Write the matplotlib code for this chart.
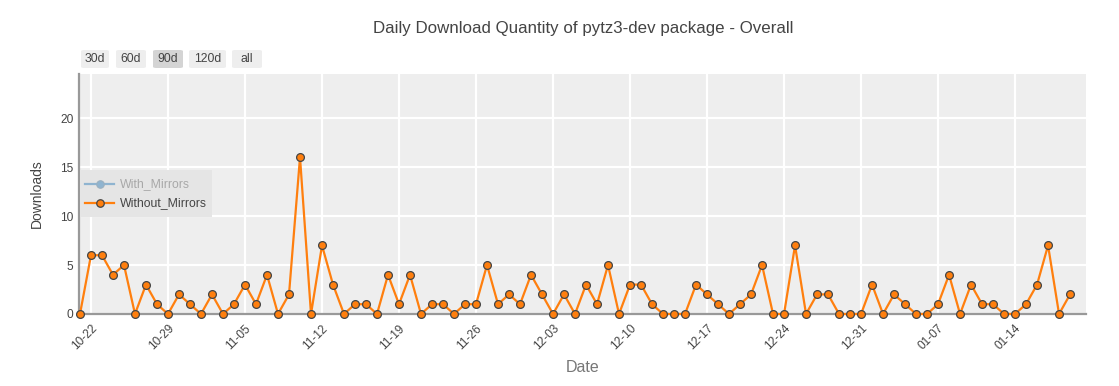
import matplotlib
matplotlib.use("Agg")
import matplotlib.pyplot as plt
import matplotlib.dates as mdates
from matplotlib.patches import FancyBboxPatch
from matplotlib.lines import Line2D
import pandas as pd
import numpy as np

start_date = "2023-10-21"
without_mirrors = [0, 6, 6, 4, 5, 0, 3, 1, 0, 2, 1, 0, 2, 0, 1, 3, 1, 4, 0, 2,
                   16, 0, 7, 3, 0, 1, 1, 0, 4, 1, 4, 0, 1, 1, 0, 1, 1, 5, 1, 2,
                   1, 4, 2, 0, 2, 0, 3, 1, 5, 0, 3, 3, 1, 0, 0, 0, 3, 2, 1, 0,
                   1, 2, 5, 0, 0, 7, 0, 2, 2, 0, 0, 0, 3, 0, 2, 1, 0, 0, 1, 4,
                   0, 3, 1, 1, 0, 0, 1, 3, 7, 0, 2]
tick_labels = ["10-22", "10-29", "11-05", "11-12", "11-19", "11-26", "12-03",
               "12-10", "12-17", "12-24", "12-31", "01-07", "01-14"]
buttons = ["30d", "60d", "90d", "120d", "all"]
selected_button = "90d"
title = "Daily Download Quantity of pytz3-dev package - Overall"

dates = pd.date_range(start_date, periods=len(without_mirrors), freq="D")
tick_dates = pd.date_range("2023-10-22", periods=len(tick_labels), freq="7D")

FONT = "Liberation Sans"
plt.rcParams["font.family"] = [FONT, "DejaVu Sans"]

W, H = 1119, 386
fig = plt.figure(figsize=(W / 100, H / 100), dpi=100)
L, R, T, B = 79, 1086, 74, 314
ax = fig.add_axes([L / W, 1 - B / H, (R - L) / W, (B - T) / H])
ax.set_facecolor("#eeeeee")

ax.plot(dates, without_mirrors, color="#ff7f0e", lw=1.6, marker="o", ms=5.6,
        mfc="#ff7f0e", mec="#444444", mew=0.9, zorder=3, clip_on=False)

x0 = mdates.date2num(dates[0]) - 0.09
x1 = mdates.date2num(dates[-1]) + 1.45
ax.set_xlim(x0, x1)
ax.set_ylim(0, 24.5)
ax.set_yticks([0, 5, 10, 15, 20])
ax.set_xticks(tick_dates)
ax.set_xticklabels(tick_labels, rotation=45, ha="right", rotation_mode="anchor")
ax.grid(True, color="white", lw=1.6)
ax.set_axisbelow(True)
for s in ["top", "right"]:
    ax.spines[s].set_visible(False)
for s in ["left", "bottom"]:
    ax.spines[s].set_color("#999999")
    ax.spines[s].set_linewidth(1.6)
ax.tick_params(axis="both", length=0, labelsize=8.6, colors="#444444")
ax.tick_params(axis="x", pad=6)
ax.tick_params(axis="y", pad=4)

ax.set_ylabel("Downloads", fontsize=10, color="#444444", labelpad=12)
fig.text(583 / W, 1 - 368 / H, "Date", fontsize=11.5, color="#777777",
         ha="center", va="center")
fig.text(583 / W, 1 - 28 / H, title, fontsize=12.2, color="#444444",
         ha="center", va="center")

# range selector buttons
bx = [(81, 109), (116, 146), (153, 183), (189, 226), (232, 262)]
for (a, b), lab in zip(bx, buttons):
    fc = "#d4d4d4" if lab == selected_button else "#eeeeee"
    p = FancyBboxPatch((a / W, 1 - 68 / H), (b - a) / W, 18 / H,
                       boxstyle="round,pad=0,rounding_size=0.003",
                       transform=fig.transFigure, fc=fc, ec="none")
    fig.patches.append(p)
    fig.text((a + b) / 2 / W, 1 - 59 / H, lab, fontsize=8.8, color="#444444",
             ha="center", va="center")

# legend
lg = FancyBboxPatch((80 / W, 1 - 217 / H), 132 / W, 47 / H,
                    boxstyle="square,pad=0", transform=fig.transFigure,
                    fc="#e5e5e5", ec="none", zorder=5)
fig.patches.append(lg)
fig.add_artist(Line2D([85 / W, 114 / W], [1 - 184 / H, 1 - 184 / H],
                      transform=fig.transFigure, color="#8fb4d0", lw=1.6,
                      zorder=6))
fig.add_artist(Line2D([99.5 / W], [1 - 184 / H], transform=fig.transFigure,
                      marker="o", ms=5.4, mfc="#8fb4d0", mec="#9ab0c0", mew=0.8,
                      zorder=7))
fig.add_artist(Line2D([85 / W, 114 / W], [1 - 203 / H, 1 - 203 / H],
                      transform=fig.transFigure, color="#ff7f0e", lw=1.6,
                      zorder=6))
fig.add_artist(Line2D([99.5 / W], [1 - 203 / H], transform=fig.transFigure,
                      marker="o", ms=5.4, mfc="#ff7f0e", mec="#444444", mew=0.9,
                      zorder=7))
fig.text(120 / W, 1 - 184 / H, "With_Mirrors", fontsize=8.8, color="#a8a8a8",
         ha="left", va="center", zorder=8)
fig.text(120 / W, 1 - 203 / H, "Without_Mirrors", fontsize=8.8,
         color="#444444", ha="left", va="center", zorder=8)

fig.savefig("out.png", dpi=100, facecolor="white")
